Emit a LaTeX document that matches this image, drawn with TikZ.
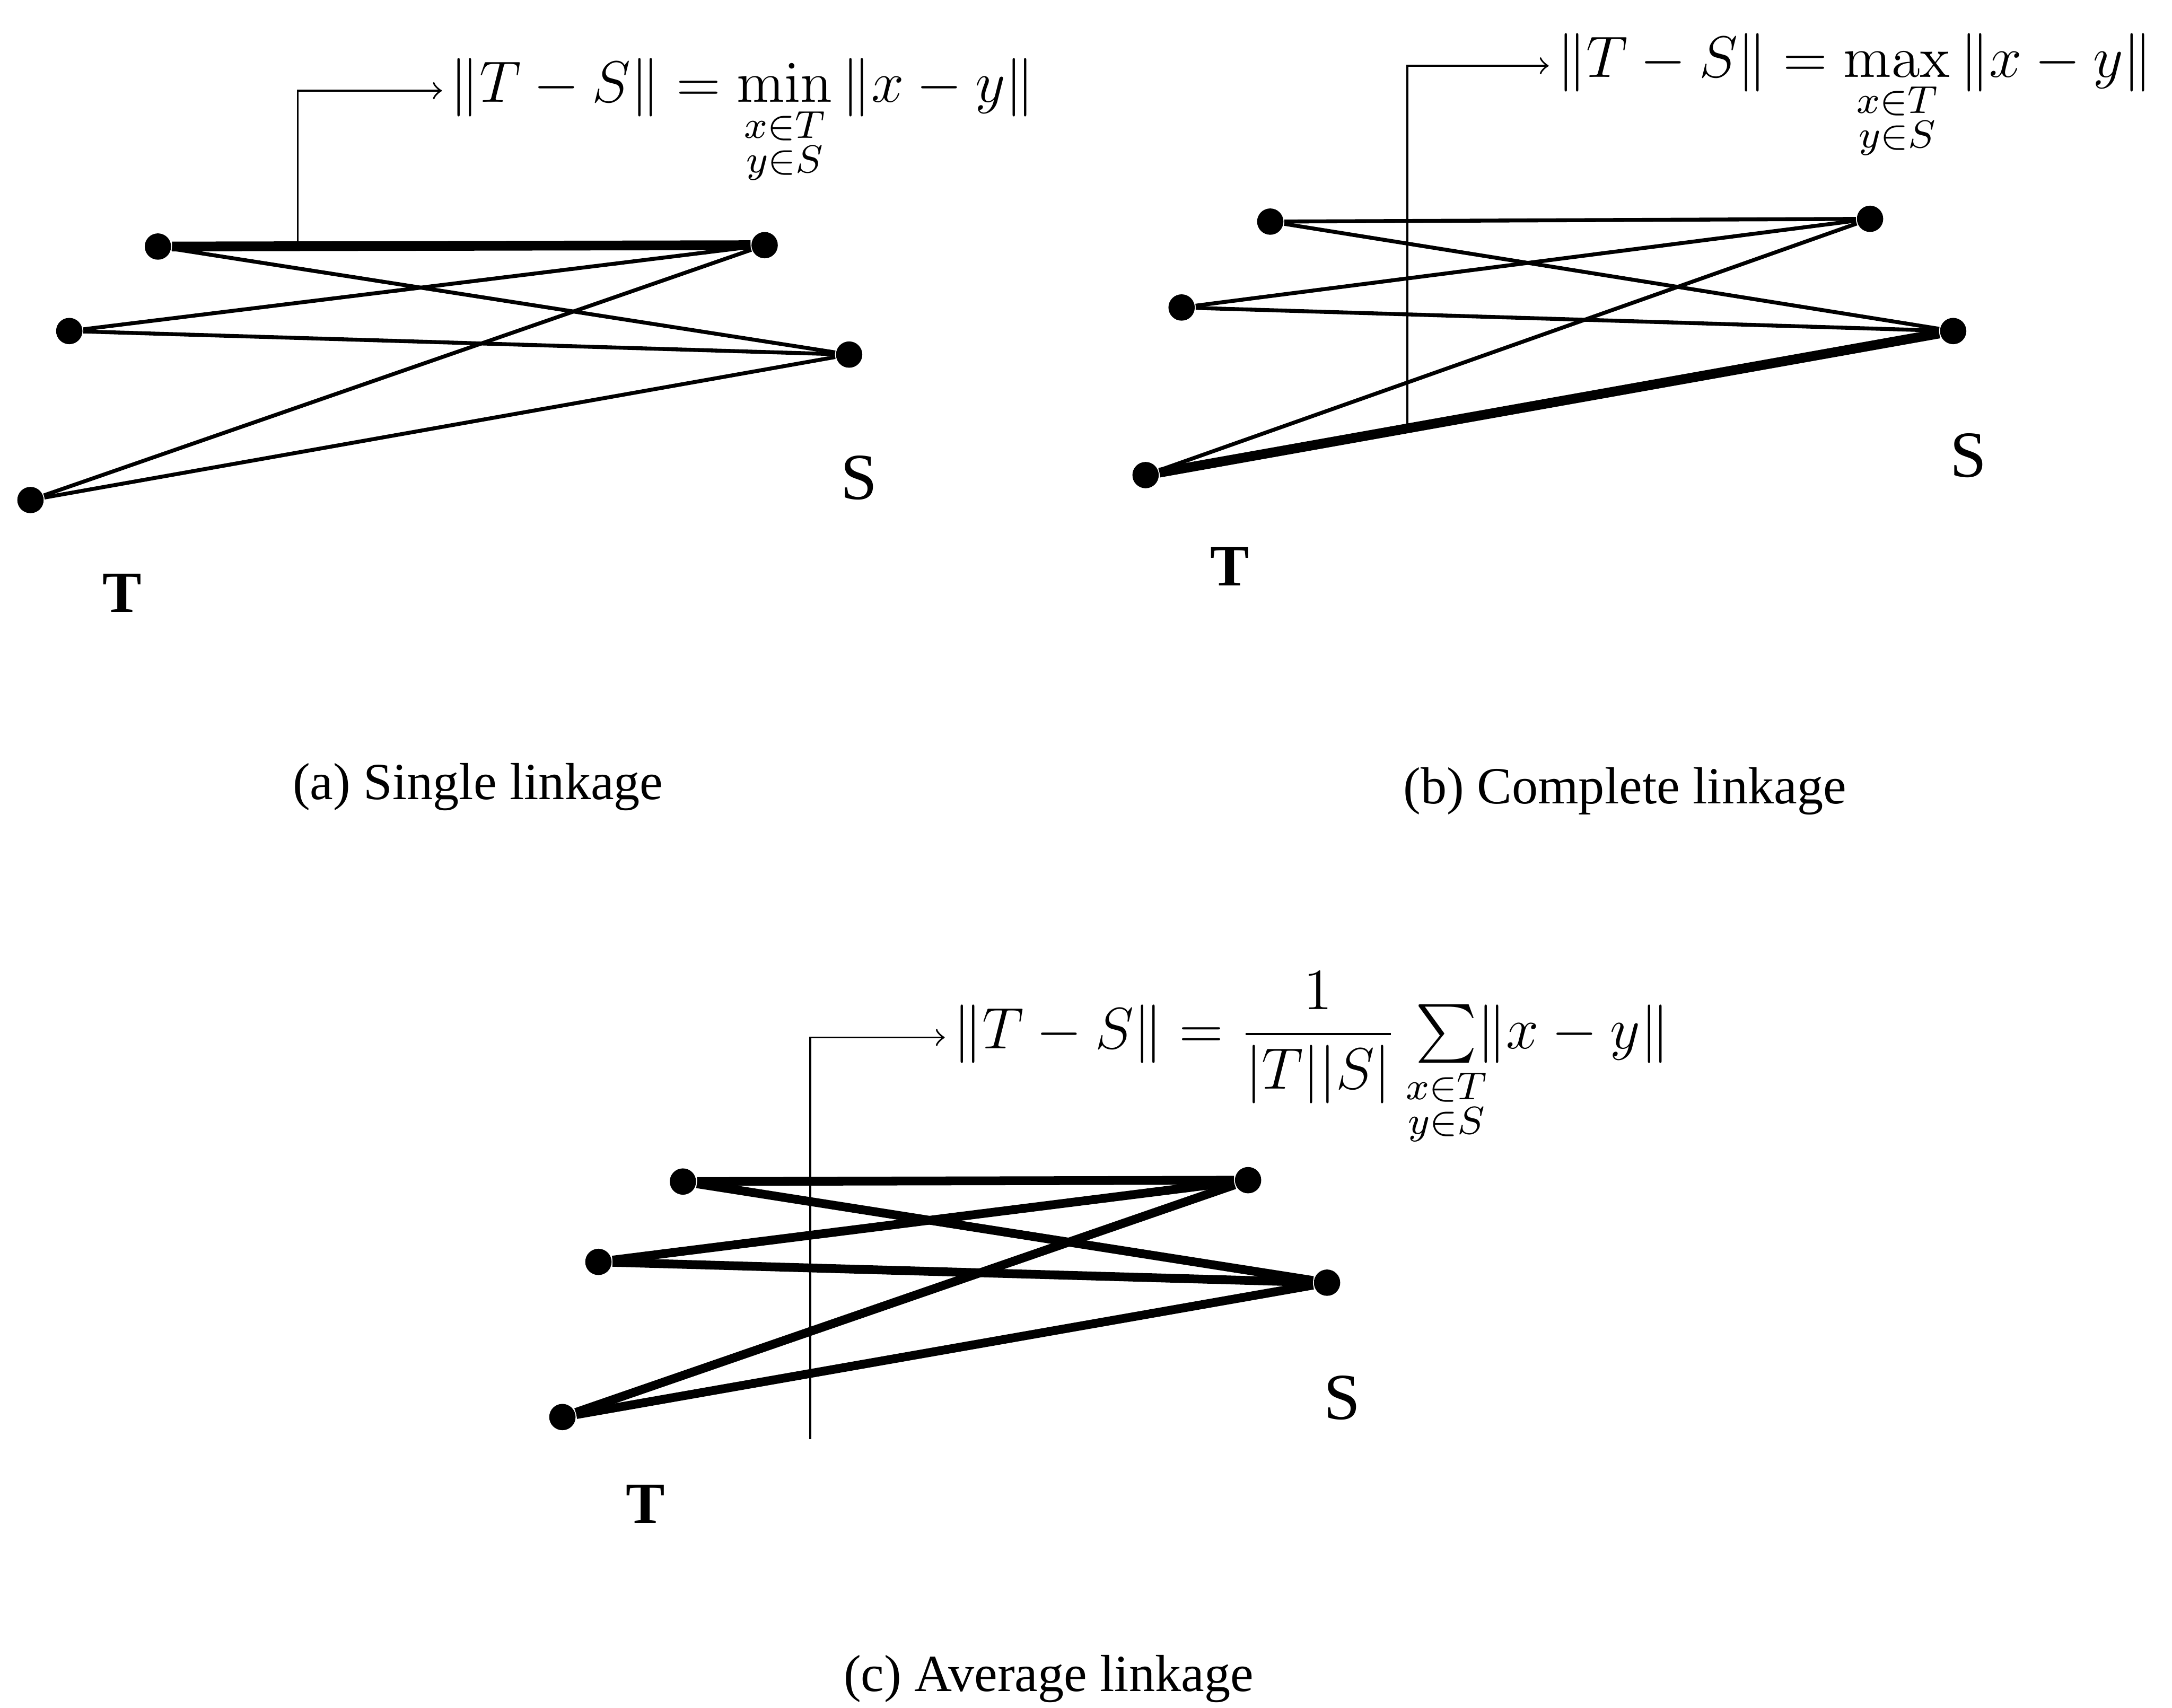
\documentclass[tikz,border=0pt]{standalone}
\usepackage{amsmath}
\usepackage[no-math]{fontspec}
\setmainfont{Liberation Serif}

\begin{document}
\begin{tikzpicture}[
	dot/.style={
		circle, fill,
		inner sep=0pt,
		minimum size=1.9mm
	},
	thin/.style={line width=0.8pt},
	heavy/.style={line width=2pt},
	avg/.style={line width=1.8pt},
	eq/.style={
		anchor=mid west,
		inner sep=1.5pt,
		font=\fontsize{12}{14}\selectfont
	},
	tlabel/.style={font=\fontsize{12}{14}\selectfont\bfseries},
	slabel/.style={font=\fontsize{13.5}{16}\selectfont},
	caption/.style={font=\fontsize{10.7}{13}\selectfont}
	]
	
	\useasboundingbox (0,0) rectangle (15.68,12.33);
	
	% (a) single linkage
	\node[dot] (a-t1) at (1.14,10.55) {};
	\node[dot] (a-t2) at (0.50,9.94)  {};
	\node[dot] (a-t3) at (0.22,8.72)  {};
	\node[dot] (a-s1) at (5.52,10.56) {};
	\node[dot] (a-s2) at (6.13,9.77)  {};
	
	\draw[heavy] (a-t1) -- (a-s1);
	\draw[thin]  (a-t1) -- (a-s2);
	\draw[thin]  (a-t2) -- (a-s1);
	\draw[thin]  (a-t2) -- (a-s2);
	\draw[thin]  (a-t3) -- (a-s1);
	\draw[thin]  (a-t3) -- (a-s2);
	
	\node[tlabel] (a-tl) at (0.88,8.05) {T};
	\node[slabel] (a-sl) at (6.20,8.88) {S};
	
	\coordinate (a-tap) at (2.15,10.555);
	\node[eq] (a-eq) at (3.19,11.675)
		{$\|T-S\|=\min\limits_{\substack{x\in T\\ y\in S}}\|x-y\|$};
	\draw[->] (a-tap) |- (a-eq.mid west);
	
	\node[caption] (a-cap) at (3.45,6.65) {(a) Single linkage};
	
	% (b) complete linkage
	\node[dot] (b-t1) at (9.17,10.73) {};
	\node[dot] (b-t2) at (8.53,10.11) {};
	\node[dot] (b-t3) at (8.27,8.90)  {};
	\node[dot] (b-s1) at (13.50,10.75) {};
	\node[dot] (b-s2) at (14.10,9.94) {};
	
	\draw[thin]  (b-t1) -- (b-s1);
	\draw[thin]  (b-t1) -- (b-s2);
	\draw[thin]  (b-t2) -- (b-s1);
	\draw[thin]  (b-t2) -- (b-s2);
	\draw[thin]  (b-t3) -- (b-s1);
	\draw[heavy] (b-t3) -- (b-s2);
	
	\node[tlabel] (b-tl) at (8.88,8.24) {T};
	\node[slabel] (b-sl) at (14.21,9.04) {S};
	
	\coordinate (b-tap) at (10.16,9.237);
	\node[eq] (b-eq) at (11.18,11.855)
		{$\|T-S\|=\max\limits_{\substack{x\in T\\ y\in S}}\|x-y\|$};
	\draw[->] (b-tap) |- (b-eq.mid west);
	
	\node[caption] (b-cap) at (11.73,6.62) {(b) Complete linkage};
	
	% (c) average linkage
	\node[dot] (c-t1) at (4.93,3.80) {};
	\node[dot] (c-t2) at (4.32,3.22) {};
	\node[dot] (c-t3) at (4.06,2.10) {};
	\node[dot] (c-s1) at (9.01,3.81) {};
	\node[dot] (c-s2) at (9.58,3.07) {};
	
	\draw[avg] (c-t1) -- (c-s1);
	\draw[avg] (c-t1) -- (c-s2);
	\draw[avg] (c-t2) -- (c-s1);
	\draw[avg] (c-t2) -- (c-s2);
	\draw[avg] (c-t3) -- (c-s1);
	\draw[avg] (c-t3) -- (c-s2);
	
	\node[tlabel] (c-tl) at (4.66,1.47) {T};
	\node[slabel] (c-sl) at (9.69,2.24) {S};
	
	\coordinate (c-foot) at (5.85,1.94);
	\node[eq] (c-eq) at (6.82,4.84)
		{$\|T-S\|=\dfrac{1}{|T||S|}\,{\textstyle\sum\limits_{\substack{x\in T\\ y\in S}}}\!\|x-y\|$};
	\draw[->] (c-foot) |- (c-eq.mid west);
	
	\node[caption] (c-cap) at (7.57,0.21) {(c) Average linkage};
	
\end{tikzpicture}
\end{document}
